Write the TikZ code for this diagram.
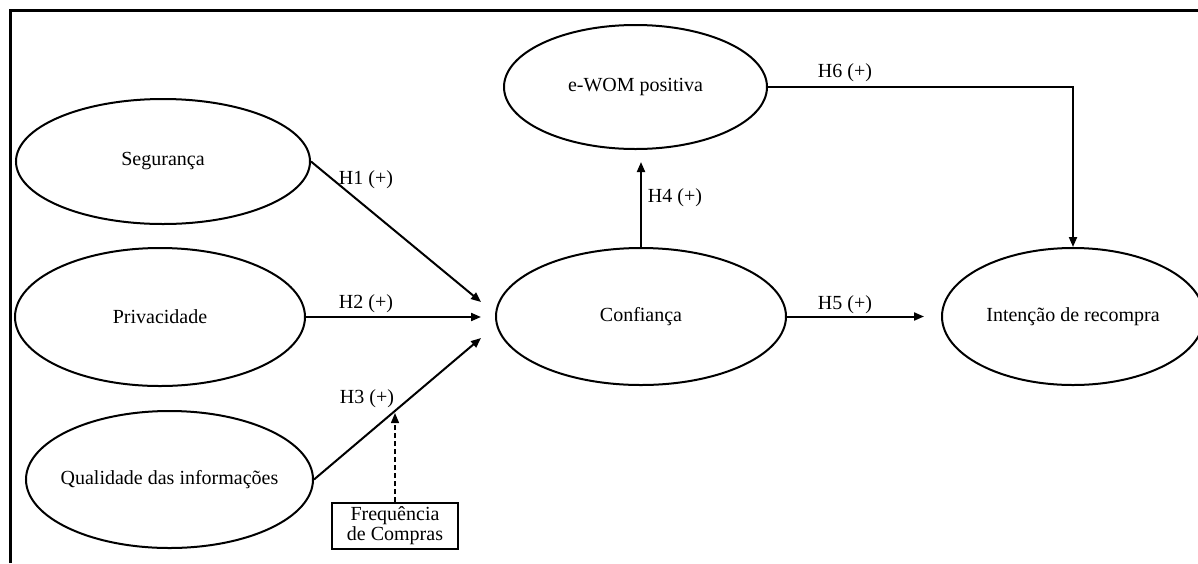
\documentclass[tikz,border=0pt]{standalone}
\usepackage{fontspec}
\setmainfont{Liberation Serif}
\usetikzlibrary{shapes.geometric, arrows.meta}
\begin{document}
\begin{tikzpicture}[x=1pt, y=-1pt, font=\fontsize{20}{22}\selectfont,
	construct/.style={ellipse, draw, line width=2pt, inner sep=0pt},
	hyp/.style={line width=2pt, -{Triangle[length=10pt, width=8pt]}}]
	\useasboundingbox (0,0) rectangle (1198,563);
	\draw [line width=2.5pt] (10.5,563) -- (10.5,10.5) -- (1198,10.5);

	\node (seg) [construct, minimum width=294pt, minimum height=125pt] at (163,161.5) {Segurança};
	\node (priv) [construct, minimum width=290pt, minimum height=138pt] at (160,317) {Privacidade};
	\node (qual) [construct, inner xsep=-12pt, minimum width=287pt, minimum height=137pt] at (169.5,479.5) {Qualidade das informações};
	\node (conf) [construct, minimum width=290pt, minimum height=137pt] at (641,316.5) {Confiança};
	\node (ewom) [construct, minimum width=263pt, minimum height=124pt] at (635.5,87) {e-WOM positiva};
	\node (rec) [construct, minimum width=262pt, minimum height=137pt] at (1073,316.5) {Intenção de recompra};
	\node (freq) [draw, line width=2pt, minimum width=126pt, minimum height=46pt, inner sep=0pt, align=center, font=\fontsize{20}{20}\selectfont] at (395,526) {Frequência\\de Compras};

	\coordinate (h1tip) at (481,302);
	\coordinate (h2tip) at (481,317);
	\coordinate (h3tip) at (481,338);
	\coordinate (h3mod) at (395,413);

	\draw [hyp] (seg.east) -- (h1tip);
	\draw [hyp] (priv.east) -- (h2tip);
	\draw [hyp] (qual.east) -- (h3tip);
	\draw [hyp, line width=1.3pt, dash pattern=on 5pt off 3pt] (freq.north) -- (h3mod);
	\draw [hyp, shorten >=12pt] (conf.north) -- (conf.north |- ewom.south);
	\draw [hyp, shorten >=17pt] (conf.east) -- (rec.west);
	\draw [hyp] (ewom.east) -| (rec.north);

	\node (lh1) at (366,180) {H1 (+)};
	\node (lh2) at (366,304) {H2 (+)};
	\node (lh3) at (367,399) {H3 (+)};
	\node (lh4) at (675,198) {H4 (+)};
	\node (lh5) at (845,305) {H5 (+)};
	\node (lh6) at (845,73) {H6 (+)};
\end{tikzpicture}
\end{document}
